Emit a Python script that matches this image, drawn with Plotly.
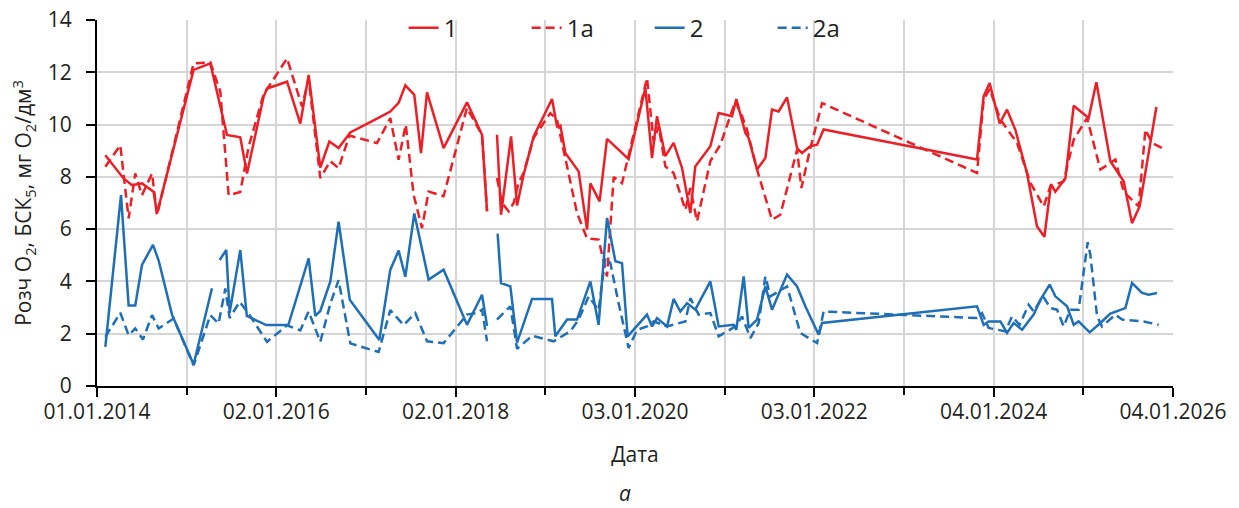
import pandas as pd
import plotly.graph_objects as go

# ---- data (x as decimal years, y in mg O2/dm3); None = gap in measurements ----
s1_years = [2014.093, 2014.297, 2014.391, 2014.502, 2014.632, 2014.670, 2015.078, 2015.265, 2015.451, 2015.599,
            2015.674, 2015.859, 2015.897, 2016.121, 2016.269, 2016.362, 2016.492, 2016.593, 2016.696, 2016.827,
            2017.125, 2017.273, 2017.366, 2017.441, 2017.541, 2017.616, 2017.683, 2017.868, 2018.129, 2018.297,
            2018.353, 2018.41, 2018.464, 2018.509, 2018.621, 2018.688, 2018.761, 2018.873, 2019.078, 2019.134,
            2019.171, 2019.227, 2019.375, 2019.469, 2019.506, 2019.609, 2019.692, 2019.933, 2020.120, 2020.194,
            2020.250, 2020.343, 2020.435, 2020.529, 2020.622, 2020.677, 2020.845, 2020.938, 2021.087, 2021.135,
            2021.236, 2021.272, 2021.366, 2021.459, 2021.533, 2021.607, 2021.701, 2021.813, 2021.868, 2021.961,
            2022.036, 2022.109, 2023.821, 2023.895, 2023.962, 2024.074, 2024.156, 2024.249, 2024.379, 2024.491,
            2024.573, 2024.647, 2024.695, 2024.807, 2024.900, 2025.067, 2025.153, 2025.309, 2025.458, 2025.551,
            2025.636, 2025.823]
s1_values = [8.83, 7.94, 7.68, 7.75, 7.43, 6.61, 12.09, 12.34, 9.6, 9.51,
             8.13, 11.06, 11.38, 11.64, 10.04, 11.9, 8.35, 9.35, 9.1, 9.7,
             10.23, 10.5, 10.83, 11.5, 11.14, 8.91, 11.23, 9.1, 10.85, 9.61,
             6.68, None, 9.61, 6.55, 9.55, 6.9, 8.08, 9.55, 10.98, 9.93,
             9.96, 8.91, 8.21, 5.98, 7.75, 7.06, 9.45, 8.68, 11.4, 8.72,
             10.32, 8.79, 9.3, 8.34, 6.62, 8.4, 9.17, 10.44, 10.32, 10.98,
             9.68, 9.49, 8.28, 8.72, 10.57, 10.5, 11.04, 9.1, 8.91, 9.17,
             9.23, 9.81, 8.66, 11.08, 11.59, 10.04, 10.57, 9.8, 8.14, 6.1,
             5.71, 7.72, 7.43, 7.94, 10.72, 10.25, 11.62, 8.6, 7.83, 6.23,
             6.87, 10.67]

s1a_years = [2014.093, 2014.260, 2014.353, 2014.427, 2014.502, 2014.614, 2014.670,
             2015.078, 2015.265, 2015.376, 2015.469, 2015.599, 2015.692, 2015.859,
             2016.121, 2016.288, 2016.362, 2016.492, 2016.604, 2016.696, 2016.816,
             2017.125, 2017.273, 2017.366, 2017.446, 2017.533, 2017.627, 2017.701, 2017.868,
             2018.129, 2018.297, 2018.353, 2018.41, 2018.464, 2018.520, 2018.594, 2018.650, 2018.705, 2018.761, 2018.873,
             2019.059, 2019.134, 2019.227, 2019.357, 2019.469, 2019.598, 2019.692, 2019.766, 2019.859,
             2020.138, 2020.212, 2020.268, 2020.343, 2020.435, 2020.566, 2020.622, 2020.696, 2020.845, 2020.957,
             2021.124, 2021.199, 2021.254, 2021.366, 2021.533, 2021.626, 2021.813, 2021.861, 2021.961,
             2022.092,
             2023.821, 2023.895, 2023.962,
             2024.082, 2024.268, 2024.417, 2024.565, 2024.640, 2024.788, 2024.900,
             2025.049, 2025.198, 2025.365, 2025.458, 2025.625, 2025.700, 2025.775, 2025.886]
s1a_values = [8.39, 9.21, 6.41, 8.13, 7.3, 8.13, 6.54,
              12.34, 12.38, 11.26, 7.3, 7.42, 9.15, 11.15,
              12.53, 10.69, 11.75, 7.95, 8.6, 8.33, 9.58,
              9.29, 10.25, 8.65, 10.0, 7.32, 6.04, 7.44, 7.26,
              10.64, 9.6, 6.7, None, 7.96, 7.0, 6.68, 7.0, 7.78, 8.15, 9.49,
              10.44, 10.19, 8.66, 6.62, 5.64, 5.6, 4.19, 7.99, 7.76,
              11.78, 9.36, 9.93, 8.4, 8.15, 6.74, 7.57, 6.3, 8.6, 9.23,
              10.89, 10.32, 9.81, 8.28, 6.36, 6.55, 9.04, 7.57, 9.1,
              10.82,
              8.15, 10.95, 11.36,
              10.19, 9.3, 7.77, 6.87, 7.64, 7.83, 9.42,
              10.25, 8.28, 8.66, 7.43, 6.87, 9.81, 9.3, 9.1]

s2_years = [2014.093, 2014.268, 2014.353, 2014.427, 2014.502, 2014.625, 2014.688, 2014.837,
            2015.078, 2015.283, 2015.32, 2015.368, 2015.443, 2015.480, 2015.599, 2015.672, 2015.890,
            2016.135, 2016.288, 2016.362, 2016.436, 2016.492, 2016.604, 2016.696, 2016.821,
            2017.151, 2017.273, 2017.366, 2017.441, 2017.541, 2017.701, 2017.868,
            2018.129, 2018.297, 2018.353, 2018.41, 2018.471, 2018.509, 2018.613, 2018.688, 2018.855,
            2019.078, 2019.115, 2019.246, 2019.357, 2019.506, 2019.598, 2019.692, 2019.785, 2019.859, 2019.922,
            2020.138, 2020.194, 2020.250, 2020.362, 2020.435, 2020.510, 2020.585, 2020.677, 2020.845, 2020.938,
            2021.105, 2021.135, 2021.217, 2021.272, 2021.366, 2021.459, 2021.533, 2021.701, 2021.813, 2021.905,
            2022.054, 2022.092,
            2023.821, 2023.895, 2023.951,
            2024.082, 2024.156, 2024.230, 2024.324, 2024.453, 2024.528, 2024.632, 2024.695, 2024.826, 2024.900, 2024.955,
            2025.078, 2025.198, 2025.309, 2025.477, 2025.551, 2025.663, 2025.737, 2025.830]
s2_values = [1.5, 7.3, 3.08, 3.08, 4.63, 5.4, 4.8, 2.73,
             0.82, 3.74, None, 4.82, 5.2, 2.8, 5.2, 2.68, 2.33,
             2.33, 4.1, 4.88, 2.68, 2.87, 4.0, 6.29, 3.3,
             1.76, 4.44, 5.18, 4.18, 6.6, 4.07, 4.45,
             2.34, 3.49, 2.3, None, 5.83, 3.94, 3.81, 1.66, 3.33,
             3.33, 1.9, 2.54, 2.54, 4.0, 2.34, 6.43, 4.77, 4.7, 1.9,
             2.73, 2.28, 2.6, 2.28, 3.33, 2.85, 3.17, 2.92, 4.0, 2.28,
             2.34, 2.15, 4.19, 2.22, 2.54, 3.81, 2.92, 4.26, 3.81, 3.05,
             1.96, 2.41,
             3.05, 2.34, 2.47,
             2.47, 2.03, 2.41, 2.15, 2.73, 3.3, 3.88, 3.43, 3.05, 2.34, 2.47,
             2.05, 2.41, 2.77, 2.98, 3.94, 3.56, 3.49, 3.56]

s2a_years = [2014.093, 2014.260, 2014.353, 2014.427, 2014.513, 2014.614, 2014.688, 2014.855,
             2015.078, 2015.265, 2015.357, 2015.432, 2015.480, 2015.592, 2015.692, 2015.897,
             2016.121, 2016.269, 2016.362, 2016.492, 2016.604, 2016.696, 2016.827,
             2017.143, 2017.273, 2017.422, 2017.552, 2017.683, 2017.868,
             2018.129, 2018.241, 2018.297, 2018.353, 2018.41, 2018.464, 2018.613, 2018.688, 2018.855,
             2019.096, 2019.282, 2019.375, 2019.487, 2019.598, 2019.673, 2019.729, 2019.821, 2019.933,
             2020.027, 2020.138, 2020.212, 2020.362, 2020.566, 2020.622, 2020.714, 2020.845, 2020.938,
             2021.124, 2021.199, 2021.292, 2021.384, 2021.459, 2021.515, 2021.701, 2021.849,
             2022.036, 2022.109,
             2023.821, 2023.877, 2023.951,
             2024.138, 2024.212, 2024.297, 2024.397, 2024.453, 2024.558, 2024.640, 2024.714, 2024.788, 2024.863, 2024.955,
             2025.056, 2025.086, 2025.161, 2025.216, 2025.365, 2025.440, 2025.681, 2025.848]
s2a_values = [1.88, 2.8, 1.94, 2.2, 1.78, 2.71, 2.2, 2.58,
              0.79, 2.71, 2.39, 3.73, 2.6, 3.22, 2.77, 1.69,
              2.32, 2.13, 2.85, 1.69, 3.15, 4.05, 1.63,
              1.3, 2.9, 2.33, 2.79, 1.71, 1.64,
              2.73, 2.79, 2.92, 1.71, None, 2.54, 3.05, 1.42, 1.92,
              1.71, 2.09, 2.54, 3.43, 2.9, 4.9, 4.7, 3.17, 1.45,
              2.15, 2.28, 2.47, 2.28, 2.47, 3.36, 2.73, 2.79, 1.9,
              2.28, 2.66, 1.83, 2.41, 4.19, 3.43, 3.81, 2.03,
              1.64, 2.85,
              2.6, 2.79, 2.22,
              2.09, 2.66, 2.34, 3.11, 2.85, 3.43, 2.98, 2.92, 2.28, 2.92, 2.92,
              5.5, 5.02, 2.66, 2.28, 2.73, 2.54, 2.47, 2.34]

series_names = ["1", "1a", "2", "2a"]
tick_labels = ["01.01.2014", "02.01.2016", "02.01.2018", "03.01.2020",
               "03.01.2022", "04.01.2024", "04.01.2026"]

# ---- helpers ----
BASE = pd.Timestamp("2014-01-01")
DAY_MS = 86400000


def to_dates(years):
    return [BASE + pd.to_timedelta((y - 2014) * 365.25, unit="D") for y in years]


RED = "#EC1F27"
BLUE = "#1F6FB7"
FONT = "Open Sans"
TXT = "#231F20"
GRID = "#D6D6D6"

fig = go.Figure()
specs = [
    (s1_years, s1_values, series_names[0], RED, "solid"),
    (s1a_years, s1a_values, series_names[1], RED, "9px,5px"),
    (s2_years, s2_values, series_names[2], BLUE, "solid"),
    (s2a_years, s2a_values, series_names[3], BLUE, "9px,5px"),
]
for yrs, vals, name, color, dash in specs:
    fig.add_trace(go.Scatter(
        x=to_dates(yrs), y=vals, name=name, mode="lines",
        line=dict(color=color, width=2.5, dash=dash),
        connectgaps=False,
    ))

# Excel-like date axis: labelled major unit 731 days, minor gridlines every 365.5 days
major_dates = [BASE + pd.to_timedelta(731 * k, unit="D") for k in range(len(tick_labels))]

fig.update_layout(
    width=1239, height=508,
    margin=dict(l=97, r=66, t=20, b=122, autoexpand=False),
    paper_bgcolor="white", plot_bgcolor="white",
    font=dict(family=FONT, size=21, color=TXT),
    showlegend=True,
    legend=dict(orientation="h", x=0.285, xanchor="left", y=0.978, yanchor="middle",
                bgcolor="rgba(0,0,0,0)", font=dict(size=24, color=TXT),
                entrywidth=78, entrywidthmode="pixels", tracegroupgap=0),
    xaxis=dict(
        type="date", range=[major_dates[0], major_dates[-1]], automargin=False,
        tickmode="array", tickvals=major_dates, ticktext=tick_labels,
        ticks="outside", ticklen=9, tickwidth=2, tickcolor="black",
        showline=True, linecolor="black", linewidth=2,
        showgrid=True, gridcolor=GRID, gridwidth=2,
        minor=dict(tick0=BASE, dtick=365.5 * DAY_MS, ticks="outside", ticklen=7,
                   tickwidth=2, tickcolor="black", showgrid=True, gridcolor=GRID, gridwidth=2),
        zeroline=False, tickfont=dict(size=21, color=TXT),
        ticklabelstandoff=-3,
        title=dict(text="Дата", font=dict(size=21, color=TXT), standoff=23),
    ),
    yaxis=dict(
        range=[0, 14], tick0=0, dtick=2, automargin=False,
        ticks="outside", ticklen=9, tickwidth=2, tickcolor="black",
        showline=True, linecolor="black", linewidth=2,
        showgrid=True, gridcolor=GRID, gridwidth=2,
        zeroline=False, tickfont=dict(size=21, color=TXT),
        ticklabelstandoff=10,
        title=dict(text="Розч O<sub>2</sub>, БСК<sub>5</sub>, мг O<sub>2</sub>/дм<sup>3</sup>",
                   font=dict(size=21, color=TXT), standoff=10),
    ),
    annotations=[dict(text="<i>а</i>", xref="paper", yref="paper", x=0.4907, y=-0.292,
                      xanchor="center", yanchor="middle", showarrow=False,
                      font=dict(size=21, color=TXT))],
)

fig.write_html("out.html", config={"displayModeBar": False},
               post_script="document.body.style.margin='0';document.body.style.overflow='hidden';")
